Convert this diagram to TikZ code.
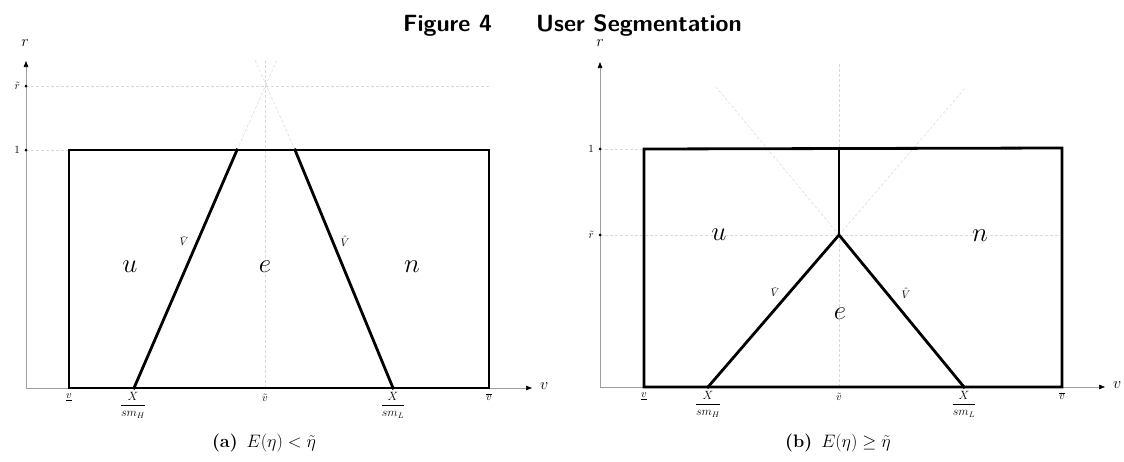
\RequirePackage{fix-cm}
\documentclass[tikz,border=0pt]{standalone}
\usepackage{amsmath}
\usepackage{fontspec}
\usetikzlibrary{arrows.meta}
\begin{document}
\begin{tikzpicture}[x=1pt,y=-1pt,
  boldline/.style={line width=2.8pt, line join=miter, line cap=rect},
  axisline/.style={draw=gray!75, line width=0.7pt},
  axistip/.style={-{Triangle[length=6pt,width=4.5pt,black]}},
  guide/.style={draw=gray!30, line width=0.5pt, dash pattern=on 3pt off 2pt},
  region/.style={font=\fontsize{27}{30}\selectfont, inner sep=0pt},
  ticklab/.style={font=\fontsize{11}{13}\selectfont, inner sep=1pt},
  fraclab/.style={font=\fontsize{12}{14}\selectfont, inner sep=1pt, anchor=north},
  curvelab/.style={font=\fontsize{11}{13}\selectfont, inner sep=0pt},
  axlab/.style={font=\fontsize{16}{18}\selectfont, inner sep=0pt},
  caplab/.style={font=\fontsize{18}{21}\selectfont, inner sep=0pt},
  titlelab/.style={font=\sffamily\bfseries\fontsize{23.5}{26}\selectfont, inner sep=0pt, anchor=base west},
  tickdot/.style={fill=black, circle, inner sep=0pt, minimum size=3pt}]
\useasboundingbox (0,0) rectangle (1124,461);

% ---------- title
\node[titlelab] (fig) at (403,31) {Figure 4};
\node[titlelab] (seg) at (536,31) {User Segmentation};

% ================= panel (a)
\coordinate (O1) at (26,388);
\coordinate (Yt1) at (26,61);
\coordinate (Xt1) at (532,388);
\coordinate (A1) at (69,388);
\coordinate (B1) at (69,150);
\coordinate (C1) at (489,150);
\coordinate (D1) at (489,388);
\coordinate (P1) at (134,388);
\coordinate (Q1) at (237,150);
\coordinate (R1) at (295,150);
\coordinate (S1) at (393,388);
\coordinate (M1) at (265,388);
\coordinate (Mt1) at (265,60);
\coordinate (Ql1) at (277,60);
\coordinate (Rl1) at (255,60);
\coordinate (Rt1) at (26,86);
\coordinate (Rte1) at (489,86);
\coordinate (One1) at (26,150);

% guides
\draw[guide] (M1) -- (Mt1);
\draw[guide] (Rt1) -- (Rte1);
\draw[guide] (One1) -- (B1);
\draw[guide] (Q1) -- (Ql1);
\draw[guide] (R1) -- (Rl1);

% axes
\draw[axisline, axistip] (O1) -- (Yt1);
\draw[axisline, axistip] (O1) -- (Xt1);
\node[axlab] (rlab1) at (25,43) {$r$};
\node[axlab, anchor=west] (vlab1) at (540,386) {$v$};
\node[tickdot] (d1a) at (Rt1) {};
\node[tickdot] (d1b) at (One1) {};
\node[ticklab, anchor=east] (rtl1) at (21,86) {$\tilde r$};
\node[ticklab, anchor=east] (onel1) at (21,150) {$1$};

% box and boundaries
\draw[boldline] (A1) -- (B1) -- (C1) -- (D1) -- cycle;
\draw[boldline] (P1) -- (Q1);
\draw[boldline] (R1) -- (S1);

% region labels
\node[region] (u1) at (130,267) {$u$};
\node[region] (e1) at (265,267) {$e$};
\node[region] (n1) at (412,267) {$n$};
\node[curvelab] (vc1) at (184,241) {$\check V$};
\node[curvelab] (vh1) at (345,241) {$\hat V$};

% tick labels
\node[ticklab, anchor=north] (vl1) at (69,393) {$\underline{v}$};
\node[fraclab] (xh1) at (133,391) {$\dfrac{X}{sm_H}$};
\node[ticklab, anchor=north] (vt1) at (265,393) {$\tilde v$};
\node[fraclab] (xl1) at (393,391) {$\dfrac{X}{sm_L}$};
\node[ticklab, anchor=north] (vb1) at (489,392) {$\overline{v}$};

\node[caplab] (cap1) at (264,443) {\textbf{(a)}\enspace$E(\eta) < \tilde\eta$};

% ================= panel (b)
\coordinate (O2) at (600,387);
\coordinate (Yt2) at (600,62);
\coordinate (Xt2) at (1105,387);
\coordinate (A2) at (644,387);
\coordinate (B2) at (644,149);
\coordinate (C2) at (1062,148);
\coordinate (D2) at (1062,387);
\coordinate (P2) at (708,387);
\coordinate (K2) at (839,235);
\coordinate (T2) at (839,148.5);
\coordinate (S2) at (964,387);
\coordinate (M2) at (839,387);
\coordinate (Mt2) at (839,62);
\coordinate (Pl2) at (966,87);
\coordinate (Sl2) at (716,87);
\coordinate (Rt2) at (600,235);
\coordinate (Rte2) at (1062,235);
\coordinate (One2) at (600,149);

% guides
\draw[guide] (M2) -- (Mt2);
\draw[guide] (Rt2) -- (Rte2);
\draw[guide] (One2) -- (B2);
\draw[guide] (K2) -- (Pl2);
\draw[guide] (K2) -- (Sl2);

% axes
\draw[axisline, axistip] (O2) -- (Yt2);
\draw[axisline, axistip] (O2) -- (Xt2);
\node[axlab] (rlab2) at (600,43) {$r$};
\node[axlab, anchor=west] (vlab2) at (1113,385) {$v$};
\node[tickdot] (d2a) at (Rt2) {};
\node[tickdot] (d2b) at (One2) {};
\node[ticklab, anchor=east] (rtl2) at (595,235) {$\tilde r$};
\node[ticklab, anchor=east] (onel2) at (595,149) {$1$};

% box and boundaries
\draw[boldline] (A2) -- (B2) -- (C2) -- (D2) -- cycle;
\draw[boldline] (P2) -- (K2) -- (S2);
\draw[boldline] (K2) -- (T2);

% region labels
\node[region] (u2) at (719,235) {$u$};
\node[region] (e2) at (840,314) {$e$};
\node[region] (n2) at (980,236) {$n$};
\node[curvelab] (vc2) at (775,292) {$\check V$};
\node[curvelab] (vh2) at (906,293) {$\hat V$};

% tick labels
\node[ticklab, anchor=north] (vl2) at (644,392) {$\underline{v}$};
\node[fraclab] (xh2) at (708,390) {$\dfrac{X}{sm_H}$};
\node[ticklab, anchor=north] (vt2) at (839,392) {$\tilde v$};
\node[fraclab] (xl2) at (964,390) {$\dfrac{X}{sm_L}$};
\node[ticklab, anchor=north] (vb2) at (1062,391) {$\overline{v}$};

\node[caplab] (cap2) at (838,443) {\textbf{(b)}\enspace$E(\eta) \geq \tilde\eta$};
\end{tikzpicture}
\end{document}
